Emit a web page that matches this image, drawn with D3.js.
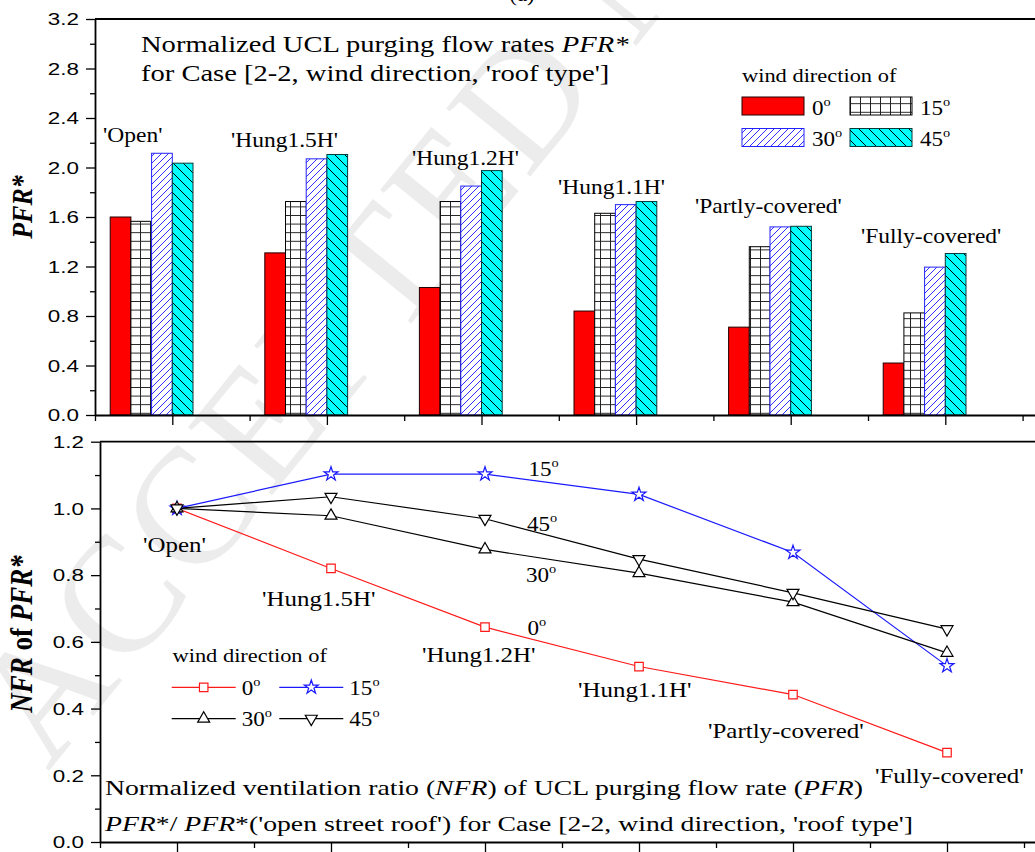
<!DOCTYPE html>
<html>
<head>
<meta charset="utf-8">
<script src="https://cdn.jsdelivr.net/npm/d3@7"></script>
<style>
  body { margin: 0; background: #fff; }
  svg { display: block; }
</style>
</head>
<body>
<script>
// ---- data ----
const categories = ["'Open'", "'Hung1.5H'", "'Hung1.2H'", "'Hung1.1H'", "'Partly-covered'", "'Fully-covered'"];
const windDirections = ["0", "15", "30", "45"];

// purging flow rate PFR* per roof type, one array per wind direction
const pfr0  = [1.60, 1.31, 1.03, 0.84, 0.71, 0.42];
const pfr15 = [1.565, 1.725, 1.725, 1.63, 1.36, 0.825];
const pfr30 = [2.115, 2.07, 1.85, 1.70, 1.52, 1.195];
const pfr45 = [2.035, 2.105, 1.975, 1.725, 1.525, 1.305];

// normalized ratio NFR = PFR*/PFR*('Open')
const nfr0  = [1.0, 0.82, 0.644, 0.526, 0.442, 0.268];
const nfr15 = [1.0, 1.103, 1.103, 1.042, 0.868, 0.528];
const nfr30 = [1.0, 0.978, 0.877, 0.806, 0.719, 0.567];
const nfr45 = [1.0, 1.035, 0.969, 0.848, 0.747, 0.638];

const pfrTicks = [0.0, 0.4, 0.8, 1.2, 1.6, 2.0, 2.4, 2.8, 3.2];
const pfrMinorTicks = [0.2, 0.6, 1.0, 1.4, 1.8, 2.2, 2.6, 3.0];
const nfrTicks = [0.0, 0.2, 0.4, 0.6, 0.8, 1.0, 1.2];
const nfrMinorTicks = [0.1, 0.3, 0.5, 0.7, 0.9, 1.1];

// ---- setup ----
const W = 1035, H = 852;
const SERIF = "'Liberation Serif', 'Times New Roman', serif";
const SANS = "'Liberation Sans', Arial, sans-serif";
const SX = 1.15;      // horizontal stretch applied to text
const TICK_SX = 1.4;  // horizontal stretch of tick numbers

const svg = d3.select("body").append("svg").attr("width", W).attr("height", H);
const defs = svg.append("defs");

// fill patterns for the bars
const pGrid = defs.append("pattern").attr("id", "pat15").attr("patternUnits", "userSpaceOnUse")
  .attr("width", 10).attr("height", 8.6);
pGrid.append("rect").attr("width", 10).attr("height", 8.6).attr("fill", "#fff");
pGrid.append("path").attr("d", "M0,0.5H10M0.5,0V8.6").attr("stroke", "#222").attr("stroke-width", 1);

const pBlue = defs.append("pattern").attr("id", "pat30").attr("patternUnits", "userSpaceOnUse")
  .attr("width", 7).attr("height", 7);
pBlue.append("rect").attr("width", 7).attr("height", 7).attr("fill", "#fff");
pBlue.append("path").attr("d", "M0,7L7,0M-1,1L1,-1M6,8L8,6").attr("stroke", "#1a1aff").attr("stroke-width", 0.9);

const pCyan = defs.append("pattern").attr("id", "pat45").attr("patternUnits", "userSpaceOnUse")
  .attr("width", 10).attr("height", 10);
pCyan.append("rect").attr("width", 10).attr("height", 10).attr("fill", "#00ffff");
pCyan.append("path").attr("d", "M0,0L10,10M-1,9L1,11M9,-1L11,1").attr("stroke", "#000").attr("stroke-width", 1);

const barStyles = [
  { fill: "#ff0000", stroke: "#200000" },
  { fill: "url(#pat15)", stroke: "#000" },
  { fill: "url(#pat30)", stroke: "#2222ff" },
  { fill: "url(#pat45)", stroke: "#053838" }
];

// text helper: segments may be italic / bold / superscript
function richText(parent, x, y, segs, opts = {}) {
  const size = opts.size || 20;
  const sx = opts.sx || SX;
  let tr = `translate(${x},${y}) scale(${sx},1)`;
  if (opts.rotate) tr += ` rotate(${opts.rotate})`;
  const t = parent.append("text")
    .attr("transform", tr)
    .attr("font-family", opts.family || SERIF)
    .attr("font-size", size)
    .attr("text-anchor", opts.anchor || "start")
    .attr("fill", opts.fill || "#000");
  if (opts.bold) t.attr("font-weight", "bold");
  segs.forEach(s => {
    if (typeof s === "string") s = { t: s };
    const ts = t.append("tspan").text(s.t);
    if (s.i) ts.attr("font-style", "italic");
    if (s.b) ts.attr("font-weight", "bold");
    if (s.sup) ts.attr("font-size", size * 0.62).attr("dy", -size * 0.42);
  });
  return t;
}
const deg = d => [d, { t: "o", sup: true }];

// faint diagonal stamp in the background
svg.append("text")
  .attr("transform", "translate(48,772) rotate(-51)")
  .attr("font-family", SERIF).attr("font-size", 165)
  .attr("letter-spacing", 4)
  .attr("fill", "#ececec")
  .text("ACCEPTED MANUSCRIPT");

richText(svg, 522, 1, ["(a)"], { size: 20, anchor: "middle" });

// ---- upper panel: PFR* bars ----
const xTop = d3.scaleLinear().domain([0.5, 6.6]).range([95, 95 + 6.1 * 154.6]);
const yTop = d3.scaleLinear().domain([0, 3.2]).range([415, 19]);
const barW = 20.7;
const sub = d3.scaleBand().domain(windDirections).range([-3 * barW, barW]).padding(0);

const upper = svg.append("g");
const pfrSeries = [pfr0, pfr15, pfr30, pfr45];

pfrSeries.forEach((vals, s) => {
  upper.append("g").selectAll("rect").data(vals).join("rect")
    .attr("x", (d, i) => xTop(i + 1) + sub(windDirections[s]))
    .attr("y", d => yTop(d))
    .attr("width", sub.bandwidth())
    .attr("height", d => yTop(0) - yTop(d))
    .attr("fill", barStyles[s].fill)
    .attr("stroke", barStyles[s].stroke)
    .attr("stroke-width", 1);
});

function styleAxis(g, w) {
  g.select(".domain").attr("stroke", "#000").attr("stroke-width", w);
  g.selectAll(".tick line").attr("stroke", "#000").attr("stroke-width", 1.3);
}
function stretchTickLabels(g, offset) {
  g.selectAll(".tick text")
    .attr("x", 0).attr("dy", "0.36em")
    .attr("transform", `translate(${-offset},0) scale(${TICK_SX},1)`)
    .attr("font-family", SANS).attr("font-size", 16).attr("fill", "#000")
    .attr("text-anchor", "end");
}

// y axis
upper.append("g").attr("transform", `translate(${xTop.range()[0]},0)`)
  .call(d3.axisLeft(yTop).tickValues(pfrMinorTicks).tickSize(5).tickFormat(""))
  .call(g => { g.select(".domain").remove(); styleAxis(g, 1.8); });
upper.append("g").attr("transform", `translate(${xTop.range()[0]},0)`)
  .call(d3.axisLeft(yTop).tickValues(pfrTicks).tickSize(9).tickSizeOuter(0).tickFormat(d3.format(".1f")))
  .call(g => { styleAxis(g, 1.8); stretchTickLabels(g, 16); });

// x axis
const catIdx = d3.range(1, 7);
const catMinor = catIdx.map(i => i - 0.5).concat([6.5]);
upper.append("g").attr("transform", `translate(0,${yTop(0)})`)
  .call(d3.axisBottom(xTop).tickValues(catMinor).tickSize(6).tickFormat(""))
  .call(g => { g.select(".domain").remove(); styleAxis(g, 1.8); });
upper.append("g").attr("transform", `translate(0,${yTop(0)})`)
  .call(d3.axisBottom(xTop).tickValues(catIdx).tickSize(10).tickSizeOuter(0).tickFormat(""))
  .call(g => styleAxis(g, 1.8));
// frame line along the top
upper.append("line").attr("x1", xTop.range()[0]).attr("x2", W + 5)
  .attr("y1", yTop(3.2)).attr("y2", yTop(3.2)).attr("stroke", "#000").attr("stroke-width", 1.8);

// axis title
richText(upper, 32, 207, [{ t: "PFR", i: true }, { t: "*", i: true }], { size: 26, bold: true, rotate: -90, anchor: "middle" });

// panel caption
richText(upper, 141, 52, ["Normalized UCL purging flow rates ", { t: "PFR", i: true }, { t: "*", i: true }], { size: 24, sx: 1.19 });
richText(upper, 141, 81, ["for Case [2-2, wind direction, 'roof type']"], { size: 24, sx: 1.19 });

// category labels above the bar groups
const topLabelPos = [[103, 142], [231, 147], [412, 165], [558, 194], [695, 213], [861, 243]];
categories.forEach((c, i) => richText(upper, topLabelPos[i][0], topLabelPos[i][1], [c], { size: 21, sx: 1.12 }));

// legend
const lg = upper.append("g");
richText(lg, 742, 81.5, ["wind direction of"], { size: 19.5 });
const legPos = [[742, 97], [850, 97], [742, 128.5], [850, 128.5]];
windDirections.forEach((d, s) => {
  lg.append("rect").attr("x", legPos[s][0]).attr("y", legPos[s][1]).attr("width", 62).attr("height", 18)
    .attr("fill", barStyles[s].fill).attr("stroke", barStyles[s].stroke).attr("stroke-width", 1);
  richText(lg, legPos[s][0] + 70, legPos[s][1] + 17.5, deg(d), { size: 21, sx: 1.1 });
});

// ---- lower panel: NFR lines ----
const xBot = d3.scaleLinear().domain([0.5, 6.6]).range([100, 100 + 6.1 * 154]);
const yBot = d3.scaleLinear().domain([0, 1.2]).range([842, 441.7]);
const lower = svg.append("g");

lower.append("g").attr("transform", `translate(${xBot.range()[0]},0)`)
  .call(d3.axisLeft(yBot).tickValues(nfrMinorTicks).tickSize(5).tickFormat(""))
  .call(g => { g.select(".domain").remove(); styleAxis(g, 1.8); });
lower.append("g").attr("transform", `translate(${xBot.range()[0]},0)`)
  .call(d3.axisLeft(yBot).tickValues(nfrTicks).tickSize(9).tickSizeOuter(0).tickFormat(d3.format(".1f")))
  .call(g => { styleAxis(g, 1.8); stretchTickLabels(g, 16); });
lower.append("g").attr("transform", `translate(0,${yBot(0)})`)
  .call(d3.axisBottom(xBot).tickValues(catMinor).tickSize(6).tickFormat(""))
  .call(g => { g.select(".domain").remove(); styleAxis(g, 1.8); });
lower.append("g").attr("transform", `translate(0,${yBot(0)})`)
  .call(d3.axisBottom(xBot).tickValues(catIdx).tickSize(10).tickSizeOuter(0).tickFormat(""))
  .call(g => styleAxis(g, 1.8));
lower.append("line").attr("x1", xBot.range()[0]).attr("x2", W + 5)
  .attr("y1", yBot(1.2)).attr("y2", yBot(1.2)).attr("stroke", "#000").attr("stroke-width", 1.8);

const lineSeries = [
  { vals: nfr0, color: "#ff1a1a", sym: d3.symbolSquare, size: 72, rot: 0 },
  { vals: nfr15, color: "#1a1aff", sym: d3.symbolStar, size: 60, rot: 0 },
  { vals: nfr30, color: "#000", sym: d3.symbolTriangle, size: 62, rot: 0 },
  { vals: nfr45, color: "#000", sym: d3.symbolTriangle, size: 62, rot: 180 }
];
const lineGen = d3.line().x((d, i) => xBot(i + 1)).y(d => yBot(d));

lineSeries.forEach(s => {
  lower.append("path").datum(s.vals).attr("d", lineGen)
    .attr("fill", "none").attr("stroke", s.color).attr("stroke-width", 1.2);
});
lineSeries.forEach(s => {
  lower.append("g").selectAll("path").data(s.vals).join("path")
    .attr("d", d3.symbol(s.sym, s.size))
    .attr("transform", (d, i) => `translate(${xBot(i + 1)},${yBot(d)}) rotate(${s.rot})`)
    .attr("fill", "#fff").attr("stroke", s.color).attr("stroke-width", 1.2);
});

// series names along the lines
richText(lower, 528.5, 476, deg("15"), { size: 21, sx: 1.1 });
richText(lower, 527, 531, deg("45"), { size: 21, sx: 1.1 });
richText(lower, 526, 582, deg("30"), { size: 21, sx: 1.1 });
richText(lower, 527.5, 635, deg("0"), { size: 21, sx: 1.1 });

// roof type labels near the points
const botLabelPos = [[143, 552], [262, 606], [422, 662], [578, 697], [708, 738], [875, 783]];
categories.forEach((c, i) => richText(lower, botLabelPos[i][0], botLabelPos[i][1], [c], { size: 21.5, sx: 1.16 }));

// legend
const lg2 = lower.append("g");
richText(lg2, 172.5, 661.7, ["wind direction of"], { size: 19.5 });
const leg2Pos = [[171.7, 687.3], [279.3, 687.3], [171.7, 718.7], [279.3, 718.7]];
lineSeries.forEach((s, k) => {
  const [lx, ly] = leg2Pos[k];
  lg2.append("line").attr("x1", lx).attr("x2", lx + 64).attr("y1", ly).attr("y2", ly)
    .attr("stroke", s.color).attr("stroke-width", 1.2);
  lg2.append("path").attr("d", d3.symbol(s.sym, s.size))
    .attr("transform", `translate(${lx + 32},${ly}) rotate(${s.rot})`)
    .attr("fill", "#fff").attr("stroke", s.color).attr("stroke-width", 1.2);
  richText(lg2, lx + 70, ly + 7.5, deg(windDirections[k]), { size: 21, sx: 1.1 });
});

// axis title
richText(lower, 32, 634, [{ t: "NFR", i: true }, " of ", { t: "PFR", i: true }, { t: "*", i: true }],
  { size: 27, bold: true, rotate: -90, anchor: "middle" });

// panel caption
richText(lower, 105, 795, ["Normalized ventilation ratio (", { t: "NFR", i: true }, ") of UCL purging flow rate (", { t: "PFR", i: true }, ")"], { size: 22, sx: 1.26 });
richText(lower, 105, 831, [{ t: "PFR", i: true }, "*/ ", { t: "PFR", i: true }, "*('open street roof') for Case [2-2, wind direction, 'roof type']"], { size: 22, sx: 1.26 });
</script>
</body>
</html>
